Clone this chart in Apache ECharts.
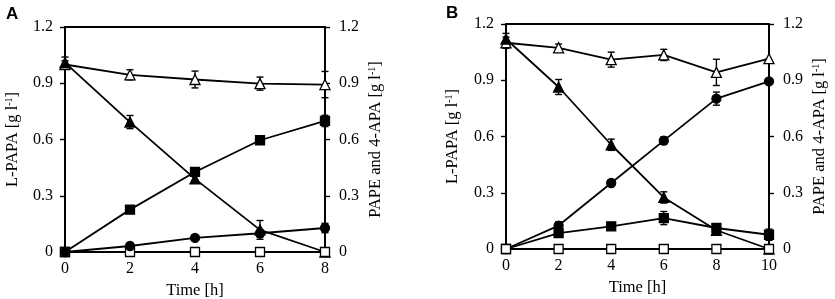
<!DOCTYPE html>
<html>
<head>
<meta charset="utf-8">
<style>
  html, body { margin: 0; padding: 0; background: #fff; }
  #chart { width: 835px; height: 299px; }
</style>
<script src="https://cdn.jsdelivr.net/npm/echarts@6/dist/echarts.min.js"></script>
</head>
<body>
<div id="chart"></div>
<script>
// panel A (0-8 h)
const timeA = [0, 2, 4, 6, 8];
const aTotal = [1.0, 0.945, 0.92, 0.898, 0.893];
const aTotalErr = [0.02, 0.027, 0.045, 0.035, 0.07];
const aPapa = [1.01, 0.693, 0.39, 0.118, 0];
const aPapaErr = [0.03, 0.035, 0.02, 0.05, 0];
const aSquare = [0, 0.226, 0.427, 0.596, 0.699];
const aSquareErr = [0, 0.01, 0.02, 0.01, 0.03];
const aCircle = [0, 0.032, 0.075, 0.1, 0.128];
const aCircleErr = [0, 0.01, 0.01, 0.02, 0.025];
const aOpenSq = [0, 0, 0, 0, 0];

// panel B (0-10 h)
const timeB = [0, 2, 4, 6, 8, 10];
const bTotal = [1.1, 1.073, 1.01, 1.035, 0.942, 1.015];
const bTotalErr = [0.03, 0.02, 0.04, 0.03, 0.07, 0];
const bPapa = [1.12, 0.864, 0.556, 0.275, 0.1, 0];
const bPapaErr = [0.03, 0.04, 0.03, 0.03, 0.01, 0];
const bCircle = [0, 0.125, 0.352, 0.578, 0.802, 0.894];
const bCircleErr = [0, 0.02, 0.015, 0.02, 0.035, 0];
const bSquare = [0, 0.085, 0.121, 0.165, 0.112, 0.076];
const bSquareErr = [0, 0.01, 0.01, 0.035, 0.01, 0.03];
const bOpenSq = [0, 0, 0, 0, 0, 0];

const serif = '"Liberation Serif", "DejaVu Serif", serif';
const nameStyle = {
  fontFamily: serif, fontSize: 16.5, color: '#000',
  rich: { sup: { fontFamily: serif, fontSize: 10, color: '#000', padding: [0, 0, 8, 0] } }
};

function pts(xs, ys) {
  return xs.map((x, i) => [x, ys[i]]);
}

function errData(xs, ys, es) {
  return xs.map((x, i) => [x, ys[i] - es[i], ys[i] + es[i]]).filter(d => d[2] - d[1] > 0);
}

function errSeries(xs, ys, es, gi, yi) {
  return {
    type: 'custom',
    xAxisIndex: gi, yAxisIndex: yi,
    clip: false, z: 1,
    data: errData(xs, ys, es),
    renderItem(params, api) {
      const lo = api.coord([api.value(0), api.value(1)]);
      const hi = api.coord([api.value(0), api.value(2)]);
      const w = 3.5;
      const st = { stroke: '#000', lineWidth: 1.4 };
      return {
        type: 'group',
        children: [
          { type: 'line', shape: { x1: lo[0], y1: lo[1], x2: hi[0], y2: hi[1] }, style: st },
          { type: 'line', shape: { x1: lo[0] - w, y1: lo[1], x2: lo[0] + w, y2: lo[1] }, style: st },
          { type: 'line', shape: { x1: hi[0] - w, y1: hi[1], x2: hi[0] + w, y2: hi[1] }, style: st }
        ]
      };
    }
  };
}

function lineSeries(xs, ys, gi, yi, symbol, filled, size, z) {
  return {
    type: 'line',
    xAxisIndex: gi, yAxisIndex: yi,
    data: pts(xs, ys),
    symbol: symbol, symbolSize: size,
    showAllSymbol: true, clip: false, z: z,
    lineStyle: { color: '#000', width: 1.8 },
    itemStyle: { color: filled ? '#000' : '#fff', borderColor: '#000', borderWidth: 1.3 },
    emphasis: { disabled: true }
  };
}

function yAxis(gi, pos, name, gap) {
  return {
    type: 'value', gridIndex: gi, position: pos,
    min: 0, max: 1.2, interval: 0.3,
    name: name, nameLocation: 'middle', nameGap: gap, nameRotate: 90,
    nameTextStyle: nameStyle,
    axisLine: { show: true, onZero: false, lineStyle: { color: '#000', width: 1.8 } },
    axisTick: { show: true, inside: false, length: 5, lineStyle: { color: '#000', width: 1.4 } },
    axisLabel: {
      margin: pos === 'left' ? 12 : 14, fontFamily: serif, fontSize: 16, color: '#000',
      formatter: v => (v === 0 ? '0' : v.toFixed(1))
    },
    splitLine: { show: false }
  };
}

function xAxis(gi, max) {
  return {
    type: 'value', gridIndex: gi,
    min: 0, max: max, interval: 2,
    name: 'Time [h]', nameLocation: 'middle', nameGap: 26,
    nameTextStyle: { fontFamily: serif, fontSize: 16.5, color: '#000' },
    axisLine: { show: true, lineStyle: { color: '#000', width: 1.8 } },
    axisTick: { show: false },
    axisLabel: { margin: 9, fontFamily: serif, fontSize: 16, color: '#000' },
    splitLine: { show: false }
  };
}

const leftName = 'L-PAPA [g l{sup|-1}]';
const rightName = 'PAPE and 4-APA [g l{sup|-1}]';

const chart = echarts.init(document.getElementById('chart'), null, { renderer: 'canvas' });

chart.setOption({
  animation: false,
  backgroundColor: '#fff',
  grid: [
    { left: 65, right: 510, top: 27, bottom: 47, show: true, borderColor: '#000', borderWidth: 1.8, outerBoundsMode: 'none' },
    { left: 506, right: 66, top: 24, bottom: 50, show: true, borderColor: '#000', borderWidth: 1.8, outerBoundsMode: 'none' }
  ],
  xAxis: [xAxis(0, 8), xAxis(1, 10)],
  yAxis: [
    yAxis(0, 'left', leftName, 43),
    yAxis(0, 'right', rightName, 42),
    yAxis(1, 'left', leftName, 44),
    yAxis(1, 'right', rightName, 42)
  ],
  graphic: [
    { type: 'text', left: 6, top: 6, style: { text: 'A', font: 'bold 17px "Liberation Sans", Arial, sans-serif', fill: '#000' } },
    { type: 'text', left: 446, top: 5, style: { text: 'B', font: 'bold 17px "Liberation Sans", Arial, sans-serif', fill: '#000' } }
  ],
  series: [
    // panel A
    errSeries(timeA, aTotal, aTotalErr, 0, 1),
    errSeries(timeA, aPapa, aPapaErr, 0, 0),
    errSeries(timeA, aSquare, aSquareErr, 0, 1),
    errSeries(timeA, aCircle, aCircleErr, 0, 1),
    lineSeries(timeA, aTotal, 0, 1, 'triangle', false, 10, 3),
    lineSeries(timeA, aPapa, 0, 0, 'triangle', true, 10, 3),
    lineSeries(timeA, aSquare, 0, 1, 'rect', true, 9, 3),
    lineSeries(timeA, aOpenSq, 0, 1, 'rect', false, 9, 4),
    lineSeries(timeA, aCircle, 0, 1, 'circle', true, 9, 5),
    // panel B
    errSeries(timeB, bTotal, bTotalErr, 1, 3),
    errSeries(timeB, bPapa, bPapaErr, 1, 2),
    errSeries(timeB, bCircle, bCircleErr, 1, 3),
    errSeries(timeB, bSquare, bSquareErr, 1, 3),
    lineSeries(timeB, bTotal, 1, 3, 'triangle', false, 10, 3),
    lineSeries(timeB, bPapa, 1, 2, 'triangle', true, 10, 3),
    lineSeries(timeB, bCircle, 1, 3, 'circle', true, 9, 3),
    lineSeries(timeB, bSquare, 1, 3, 'rect', true, 9, 3),
    lineSeries(timeB, bOpenSq, 1, 3, 'rect', false, 9, 4)
  ]
});
</script>
</body>
</html>
